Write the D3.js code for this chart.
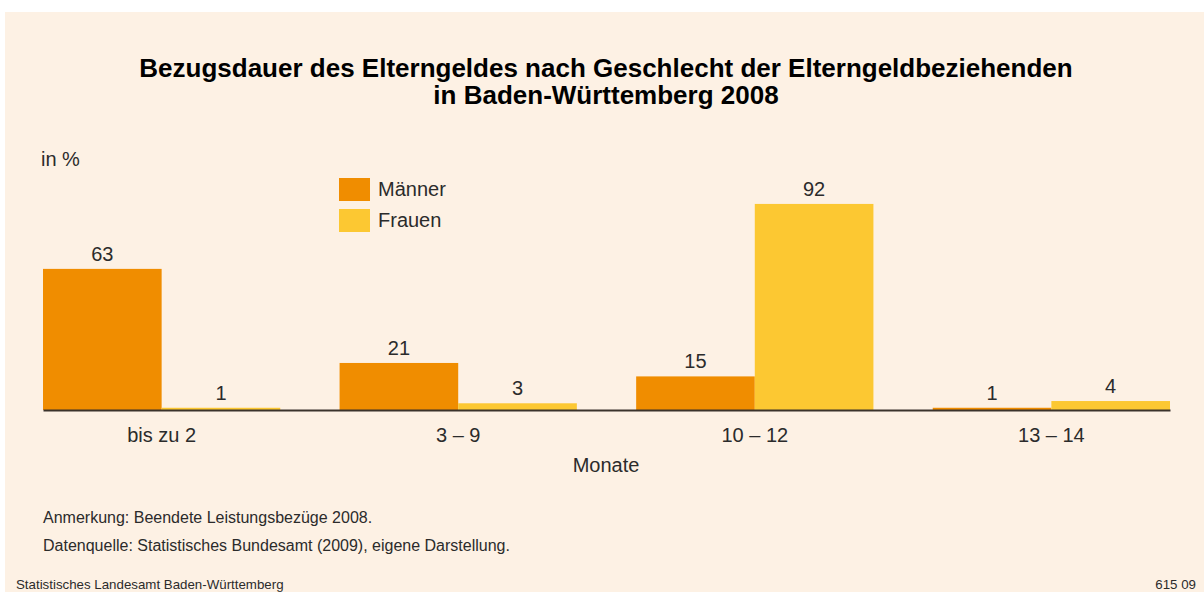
<!DOCTYPE html>
<html>
<head>
<meta charset="utf-8">
<script src="https://cdn.jsdelivr.net/npm/d3@7"></script>
<style>
	html, body { margin: 0; padding: 0; background: #fff; }
	svg { display: block; font-family: "Liberation Sans", Arial, sans-serif; }
</style>
</head>
<body>
<svg id="view" width="1204" height="592"></svg>
<script>
'use strict';

// data
const categories = ["bis zu 2", "3 – 9", "10 – 12", "13 – 14"];
const seriesNames = ["Männer", "Frauen"];
const maenner = [63, 21, 15, 1];
const frauen = [1, 3, 92, 4];
const titleLines = [
	"Bezugsdauer des Elterngeldes nach Geschlecht der Elterngeldbeziehenden",
	"in Baden-Württemberg 2008"
];
const notes = [
	"Anmerkung: Beendete Leistungsbezüge 2008.",
	"Datenquelle: Statistisches Bundesamt (2009), eigene Darstellung."
];

const colors = {"Männer": "#f08d00", "Frauen": "#fcc832"};
const textColor = "#2b2b2b";

const svg = d3.select("#view");
const width = 1204;
const height = 592;

// panel background
svg.append("rect")
	.attr("x", 5).attr("y", 12)
	.attr("width", width - 5).attr("height", height - 12)
	.attr("fill", "#fdf1e4");

// title
svg.append("g")
	.selectAll("text")
	.data(titleLines)
	.join("text")
	.attr("x", 606)
	.attr("y", (d, i) => 77 + i * 27)
	.attr("text-anchor", "middle")
	.attr("font-size", 26)
	.attr("font-weight", "bold")
	.attr("fill", "#000")
	.text(d => d);

// scales
const baseline = 410;
const x0 = d3.scaleBand()
	.domain(categories)
	.range([43, 1170])
	.paddingInner(0.2)
	.paddingOuter(0);

const x1 = d3.scaleBand()
	.domain(seriesNames)
	.range([0, x0.bandwidth()])
	.padding(0);

const y = d3.scaleLinear()
	.domain([0, 100])
	.range([baseline, baseline - 224]);

const rows = categories.map((c, i) => ({
	category: c,
	values: [
		{key: "Männer", value: maenner[i]},
		{key: "Frauen", value: frauen[i]}
	]
}));

// bars
const groups = svg.append("g")
	.selectAll("g")
	.data(rows)
	.join("g")
	.attr("transform", d => `translate(${x0(d.category)},0)`);

groups.selectAll("rect")
	.data(d => d.values)
	.join("rect")
	.attr("x", d => x1(d.key))
	.attr("y", d => y(d.value))
	.attr("width", x1.bandwidth())
	.attr("height", d => y(0) - y(d.value))
	.attr("fill", d => colors[d.key]);

groups.selectAll("text")
	.data(d => d.values)
	.join("text")
	.attr("x", d => x1(d.key) + x1.bandwidth() / 2)
	.attr("y", d => y(d.value) - 8)
	.attr("text-anchor", "middle")
	.attr("font-size", 20)
	.attr("fill", textColor)
	.text(d => d.value);

// axis
const axis = svg.append("g")
	.attr("transform", `translate(0,${baseline})`)
	.call(d3.axisBottom(x0).tickSize(0).tickSizeOuter(0).tickPadding(18));

axis.select(".domain")
	.attr("stroke", "#3a332c")
	.attr("stroke-width", 2);

axis.selectAll(".tick text")
	.attr("font-family", "\"Liberation Sans\", Arial, sans-serif")
	.attr("font-size", 20)
	.attr("fill", textColor);

svg.append("text")
	.attr("x", 606).attr("y", 472)
	.attr("text-anchor", "middle")
	.attr("font-size", 20)
	.attr("fill", textColor)
	.text("Monate");

// unit
svg.append("text")
	.attr("x", 41).attr("y", 166)
	.attr("font-size", 20)
	.attr("fill", textColor)
	.text("in %");

// legend
const legend = svg.append("g")
	.selectAll("g")
	.data(seriesNames)
	.join("g")
	.attr("transform", (d, i) => `translate(339,${178 + i * 31})`);

legend.append("rect")
	.attr("width", 31)
	.attr("height", 23)
	.attr("fill", d => colors[d]);

legend.append("text")
	.attr("x", 39)
	.attr("y", 18)
	.attr("font-size", 20)
	.attr("fill", textColor)
	.text(d => d);

// notes
svg.append("g")
	.selectAll("text")
	.data(notes)
	.join("text")
	.attr("x", 43)
	.attr("y", (d, i) => 523 + i * 28)
	.attr("font-size", 16)
	.attr("fill", textColor)
	.text(d => d);

svg.append("text")
	.attr("x", 16).attr("y", 589)
	.attr("font-size", 13.3)
	.attr("fill", textColor)
	.text("Statistisches Landesamt Baden-Württemberg");

svg.append("text")
	.attr("x", 1196).attr("y", 589)
	.attr("text-anchor", "end")
	.attr("font-size", 13.3)
	.attr("fill", textColor)
	.text("615 09");
</script>
</body>
</html>
